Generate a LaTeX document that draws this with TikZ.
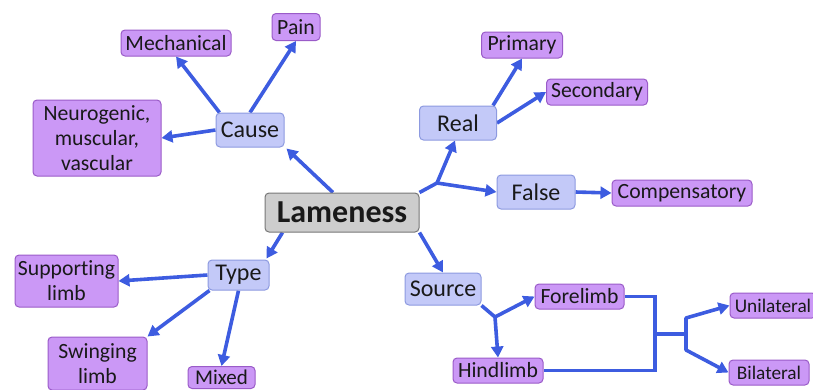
\documentclass[tikz,border=0pt]{standalone}
\usepackage{fontspec}
\setmainfont{Carlito}[Ligatures=NoCommon]
\usetikzlibrary{arrows.meta,backgrounds}
\definecolor{arrowblue}{HTML}{3D5CE0}
\definecolor{lvlfill}{HTML}{C3C9F8}
\definecolor{lvldraw}{HTML}{8D9AE0}
\definecolor{leaffill}{HTML}{CB98F6}
\definecolor{leafdraw}{HTML}{9A5BC8}
\definecolor{rootfill}{HTML}{CDCDCD}
\definecolor{rootdraw}{HTML}{777777}
\begin{document}
\begin{tikzpicture}[x=1pt,y=-1pt,
  base/.style={rounded corners=4pt, line width=1pt, inner sep=0pt, align=center, text=black!90},
  root/.style={base, fill=rootfill, draw=rootdraw, font=\fontsize{32}{36}\selectfont\bfseries},
  lvl/.style={base, fill=lvlfill, draw=lvldraw, font=\fontsize{24}{27}\selectfont},
  leaf/.style={base, fill=leaffill, draw=leafdraw, font=\fontsize{21.7}{25}\selectfont},
  smallleaf/.style={leaf, font=\fontsize{19.3}{23}\selectfont},
  arr/.style={draw=arrowblue, line width=3.6pt, line join=round, -{Triangle[length=11pt,width=12pt]}},
  link/.style={draw=arrowblue, line width=3.6pt, line join=miter}]
\useasboundingbox (0,0) rectangle (813,389);

\node[root, minimum width=154, minimum height=39] (lam) at (342,212.5) {Lameness};

\node[lvl, minimum width=68, minimum height=34] (cause) at (250,130) {Cause};
\node[leaf, minimum width=110, minimum height=26] (mech) at (176,43) {Mechanical};
\node[leaf, minimum width=48, minimum height=27] (pain) at (296,27) {Pain};
\node[leaf, minimum width=128, minimum height=76] (neuro) at (97,138) {Neurogenic,\\muscular,\\vascular};

\node[lvl, minimum width=77, minimum height=34] (real) at (458,123) {Real};
\node[leaf, minimum width=81, minimum height=26] (prim) at (522,45) {Primary};
\node[leaf, minimum width=101, minimum height=26] (sec) at (597,92) {Secondary};
\node[lvl, minimum width=78, minimum height=34] (false) at (536,192) {False};
\node[leaf, minimum width=140, minimum height=26] (comp) at (682,193) {Compensatory};

\node[lvl, minimum width=61, minimum height=30] (type) at (238.5,275) {Type};
\node[leaf, minimum width=103, minimum height=52] (supp) at (66.5,281) {Supporting\\limb};
\node[leaf, minimum width=99, minimum height=53] (swing) at (97.5,363.5) {Swinging\\limb};
\node[leaf, minimum width=67, minimum height=22, font=\fontsize{21}{24}\selectfont] (mixed) at (221.5,377.5) {Mixed};

\node[lvl, minimum width=76, minimum height=32] (source) at (443,289) {Source};
\node[leaf, minimum width=89, minimum height=25] (fore) at (579.5,296.5) {Forelimb};
\node[leaf, minimum width=90, minimum height=25] (hind) at (498,370.5) {Hindlimb};
\node[smallleaf, minimum width=86, minimum height=25] (uni) at (773,305.5) {Unilateral};
\node[smallleaf, minimum width=80, minimum height=25] (bil) at (769,372.5) {Bilateral};

\coordinate (s1) at (437,183);
\coordinate (s2) at (495,317);
\coordinate (j1) at (655,334);
\coordinate (j2) at (686,334);
\coordinate (u1) at (686,318);
\coordinate (b1) at (686,350);

\begin{scope}[on background layer]
\draw[arr] ([xshift=-9pt]lam.north) -- ([xshift=2pt,yshift=-1pt]cause.south east);
\draw[arr] (cause.west) -- (neuro.east);
\draw[arr] ([xshift=4pt]cause.north west) -- (mech.south);
\draw[arr] (cause.north) -- (pain.south);

\draw[link] (lam.north east) -- (s1);
\draw[arr] (s1) -- ([xshift=-3pt]real.south);
\draw[arr] (s1) -- (false.west);
\draw[arr] ([xshift=-4pt]real.north east) -- (prim.south);
\draw[arr] (real.east) -- (sec.west);
\draw[arr] (false.east) -- (comp.west);

\draw[arr] ([xshift=18pt]lam.south west) -- ([xshift=-3pt,yshift=1pt]type.north east);
\draw[arr] (type.west) -- (supp.east);
\draw[arr] ([xshift=2pt]type.south west) -- (swing.north east);
\draw[arr] (type.south) -- (mixed.north);

\draw[arr] (lam.south east) -- (source.north);
\draw[link] (source.south east) -- (s2);
\draw[arr] (s2) -- (fore.west);
\draw[arr] (s2) -- (hind.north);

\draw[link] (fore.east) -- (fore.east -| j1) -- (hind.east -| j1) -- (hind.east);
\draw[link] (j1) -- (j2);
\draw[arr] (j2) -- (u1) -- (uni.west);
\draw[arr] (j2) -- (b1) -- (bil.west);
\end{scope}
\end{tikzpicture}
\end{document}
